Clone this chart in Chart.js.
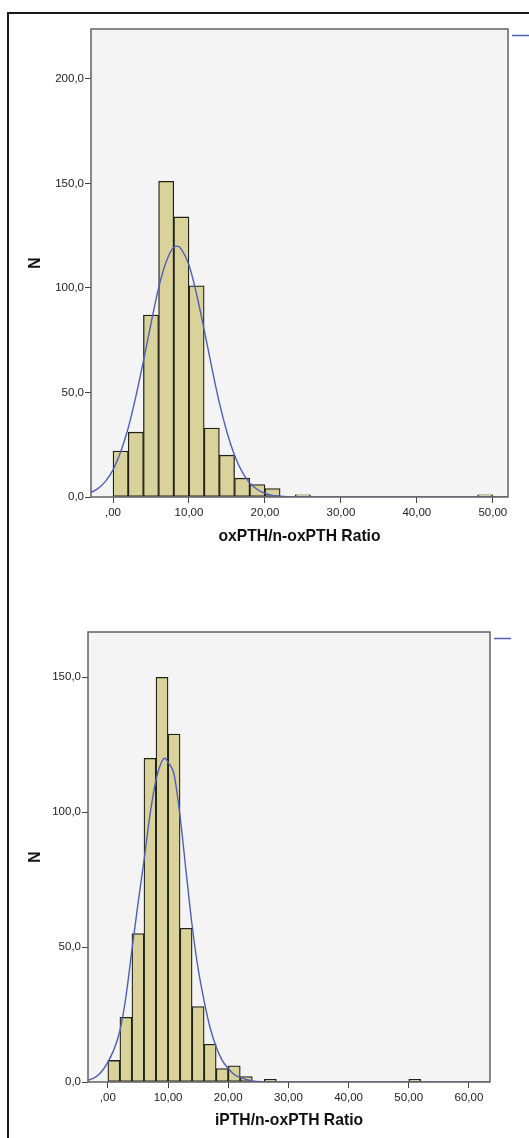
<!DOCTYPE html>
<html>
<head>
<meta charset="utf-8">
<script src="https://cdn.jsdelivr.net/npm/chart.js@4.4.1/dist/chart.umd.min.js"></script>
<style>
  html, body { margin: 0; padding: 0; background: #ffffff; overflow: hidden; }
  body { width: 529px; height: 1138px; position: relative; }
  #frame { position: absolute; left: 7px; top: 12px; width: 600px; height: 1200px;
           border-left: 2px solid #1a1a1a; border-top: 2px solid #1a1a1a; z-index: 0; }
  canvas { position: absolute; left: 0; z-index: 1; }
  #chartTop { top: 0; }
  #chartBottom { top: 600px; }
</style>
</head>
<body>
<div id="frame"></div>
<canvas id="chartTop" width="529" height="560"></canvas>
<canvas id="chartBottom" width="529" height="538"></canvas>
<script>
// Datos - histograma oxPTH/n-oxPTH (bins de ancho 2)
const binWidth = 2;
const oxBinStart = [0, 2, 4, 6, 8, 10, 12, 14, 16, 18, 20, 24, 48];
const oxCounts = [22, 31, 87, 151, 134, 101, 33, 20, 9, 6, 4, 1, 1];
// curva normal
const oxCurveX = [-2.9, -2, -1, 0, 1, 2, 3, 4, 5, 6, 7, 8, 8.5, 9, 10, 11, 12, 13, 14, 15, 16, 17, 18, 19, 20, 21, 22, 24, 26, 30, 52];
const oxCurveY = [2.2, 4, 7.5, 13, 21.5, 33, 48, 65, 83, 100, 112.5, 119.5, 120, 118.5, 111, 97, 80, 62, 45, 31, 20, 12, 6.7, 3.6, 1.8, 0.8, 0.4, 0.05, 0, 0, 0];
const oxXTicks = [0, 10, 20, 30, 40, 50];
const oxXTickLabels = [",00", "10,00", "20,00", "30,00", "40,00", "50,00"];
const oxYTicks = [0, 50, 100, 150, 200];
const oxYTickLabels = ["0,0", "50,0", "100,0", "150,0", "200,0"];

// Datos - histograma iPTH/n-oxPTH
const iBinStart = [0, 2, 4, 6, 8, 10, 12, 14, 16, 18, 20, 22, 26, 50];
const iCounts = [8, 24, 55, 120, 150, 129, 57, 28, 14, 5, 6, 2, 1, 1];
const iCurveX = [-3.3, -2, -1, 0, 1, 2, 3, 4, 5, 6, 7, 8, 9, 9.5, 10, 11, 12, 13, 14, 15, 16, 17, 18, 19, 20, 21, 22, 24, 26, 30, 63.5];
const iCurveY = [0.6, 1.9, 4, 7.4, 12, 19, 31.5, 49, 66, 82, 99, 112, 119, 120, 118.5, 114, 98.5, 78, 58, 42, 30, 20, 13, 8, 5, 2.8, 1.6, 0.4, 0.1, 0, 0];
const iXTicks = [0, 10, 20, 30, 40, 50, 60];
const iXTickLabels = [",00", "10,00", "20,00", "30,00", "40,00", "50,00", "60,00"];
const iYTicks = [0, 50, 100, 150];
const iYTickLabels = ["0,0", "50,0", "100,0", "150,0"];

const barFill = "#d9d39b";
const barEdge = "#222118";
const curveColor = "#4f5fb8";
const tickFont = { family: "'Liberation Sans', Arial, sans-serif", size: 11.5 };
const titleFont = { family: "'Liberation Sans', Arial, sans-serif", size: 15.7, weight: "bold" };

// Plugin: fondo gris del area, marco y muestra de la leyenda
const plotFrame = {
  id: "plotFrame",
  beforeDatasetsDraw(chart) {
    const { ctx, chartArea: a } = chart;
    ctx.save();
    ctx.fillStyle = "#f4f4f4";
    ctx.fillRect(a.left, a.top, a.right - a.left, a.bottom - a.top);
    ctx.restore();
  },
  afterDraw(chart) {
    const { ctx, chartArea: a } = chart;
    ctx.save();
    ctx.strokeStyle = "#616161";
    ctx.lineWidth = 1.5;
    ctx.strokeRect(a.left, a.top, a.right - a.left, a.bottom - a.top);
    // muestra de leyenda (cortada en el original)
    ctx.strokeStyle = curveColor;
    ctx.lineWidth = 1.5;
    ctx.beginPath();
    ctx.moveTo(a.right + 4, a.top + 6.5);
    ctx.lineTo(a.right + 21, a.top + 6.5);
    ctx.stroke();
    ctx.restore();
  }
};

function makeHistogram(canvasId, cfg) {
  const bars = cfg.binStart.map((s, i) => ({ x: s + binWidth / 2, y: cfg.counts[i] }));
  const curve = cfg.curveX.map((x, i) => ({ x: x, y: cfg.curveY[i] }));

  return new Chart(document.getElementById(canvasId), {
    type: "bar",
    data: {
      datasets: [
        {
          type: "line",
          label: "Normal",
          data: curve,
          borderColor: curveColor,
          borderWidth: 1.4,
          pointRadius: 0,
          cubicInterpolationMode: "monotone",
          fill: false,
          order: 0
        },
        {
          label: "N",
          data: bars,
          backgroundColor: barFill,
          borderColor: barEdge,
          borderWidth: 1.3,
          borderSkipped: false,
          barPercentage: 1,
          categoryPercentage: 1,
          grouped: false,
          order: 1
        }
      ]
    },
    options: {
      responsive: false,
      animation: false,
      layout: { padding: cfg.padding },
      plugins: {
        legend: { display: false },
        tooltip: { enabled: false }
      },
      scales: {
        x: {
          type: "linear",
          offset: false,
          min: cfg.xMin,
          max: cfg.xMax,
          afterBuildTicks: (axis) => { axis.ticks = cfg.xTicks.map(v => ({ value: v })); },
          afterFit: (scale) => { scale.height = cfg.xAxisHeight; },
          ticks: {
            autoSkip: false,
            maxRotation: 0,
            padding: 3,
            color: "#222222",
            font: tickFont,
            callback: (value, index) => cfg.xTickLabels[index]
          },
          grid: { drawOnChartArea: false, drawTicks: true, tickLength: 6, tickColor: "#444444", offset: false },
          border: { display: false },
          title: { display: true, text: cfg.xTitle, color: "#111111", font: titleFont, padding: 0 }
        },
        y: {
          min: 0,
          max: cfg.yMax,
          afterBuildTicks: (axis) => { axis.ticks = cfg.yTicks.map(v => ({ value: v })); },
          afterFit: (scale) => { scale.width = cfg.yAxisWidth; },
          ticks: {
            autoSkip: false,
            padding: 1,
            color: "#222222",
            font: tickFont,
            callback: (value, index) => cfg.yTickLabels[index]
          },
          grid: { drawOnChartArea: false, drawTicks: true, tickLength: 6, tickColor: "#444444" },
          border: { display: false },
          title: { display: true, text: "N", color: "#111111", font: titleFont, padding: { top: 26.5, bottom: 0 } }
        }
      }
    },
    plugins: [plotFrame]
  });
}

makeHistogram("chartTop", {
  binStart: oxBinStart, counts: oxCounts, curveX: oxCurveX, curveY: oxCurveY,
  xTicks: oxXTicks, xTickLabels: oxXTickLabels, yTicks: oxYTicks, yTickLabels: oxYTickLabels,
  xMin: -2.9, xMax: 52, yMax: 223.9,
  xTitle: "oxPTH/n-oxPTH Ratio",
  padding: { left: 0, top: 29, right: 21, bottom: 14 },
  yAxisWidth: 91, xAxisHeight: 49
});

makeHistogram("chartBottom", {
  binStart: iBinStart, counts: iCounts, curveX: iCurveX, curveY: iCurveY,
  xTicks: iXTicks, xTickLabels: iXTickLabels, yTicks: iYTicks, yTickLabels: iYTickLabels,
  xMin: -3.3, xMax: 63.5, yMax: 166.8,
  xTitle: "iPTH/n-oxPTH Ratio",
  padding: { left: 0, top: 32, right: 39, bottom: 8 },
  yAxisWidth: 88, xAxisHeight: 48
});
</script>
</body>
</html>
